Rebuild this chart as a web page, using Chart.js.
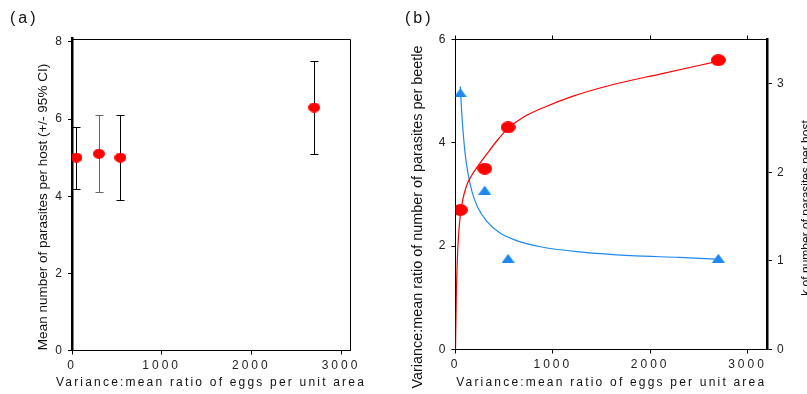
<!DOCTYPE html>
<html>
<head>
<meta charset="utf-8">
<script src="https://cdn.jsdelivr.net/npm/chart.js@4"></script>
<style>
    html, body { margin: 0; padding: 0; background: #fff; }
    #wrap { position: relative; width: 807px; height: 394px; overflow: hidden; }
    #chartA { position: absolute; left: 0; top: 0; }
    #chartB { position: absolute; left: 395px; top: 0; }
</style>
</head>
<body>
<div id="wrap">
    <canvas id="chartA" width="395" height="394"></canvas>
    <canvas id="chartB" width="412" height="394"></canvas>
</div>
<script>
// egg variance:mean ratio for the four sites (x in both panels)
const eggRatio = [50, 300, 540, 2700];

// panel (a)
const meanParasites = [5.0, 5.1, 5.0, 6.3];
const ciLow = [4.2, 4.1, 3.9, 5.1];
const ciHigh = [5.8, 6.1, 6.1, 7.5];

// panel (b)
const parasiteRatio = [2.7, 3.5, 4.3, 5.6];
const kValues = [2.9, 1.8, 1.03, 1.03];

// fitted curves
const ratioFitX = [0, 8, 20, 35, 50, 75, 110, 160, 230, 320, 430, 540, 700, 900, 1200, 1600, 2100, 2700];
const ratioFitY = [0, 1.0, 1.8, 2.3, 2.6, 2.9, 3.15, 3.35, 3.55, 3.78, 4.05, 4.28, 4.5, 4.68, 4.9, 5.12, 5.33, 5.58];
const kFitX = [50, 60, 75, 100, 130, 170, 230, 320, 450, 600, 870, 1300, 1800, 2300, 2700];
const kFitY = [2.97, 2.75, 2.5, 2.2, 1.98, 1.78, 1.6, 1.45, 1.32, 1.24, 1.16, 1.1, 1.06, 1.04, 1.02];

// tick labels
const xTicks = [0, 1000, 2000, 3000];
const yTicksA = [0, 2, 4, 6, 8];
const yTicksB = [0, 2, 4, 6];
const kTicks = [0, 1, 2, 3];

const xTitle = "Variance:mean ratio of eggs per unit area";
const yTitleA = "Mean number of parasites per host (+/- 95% CI)";
const yTitleB = "Variance:mean ratio of number of parasites per beetle";
const kTitle = "k of number of parasites per host";

const RED = "#ff0000";
const BLUE = "#1e88f0";
const FONT = "'Liberation Sans', Arial, sans-serif";

Chart.defaults.font.family = FONT;
Chart.defaults.font.size = 12;
Chart.defaults.color = "#222";

function ellipseMarker(w, h, colour) {
    const c = document.createElement("canvas");
    c.width = w;
    c.height = h;
    const g = c.getContext("2d");
    g.fillStyle = colour;
    g.beginPath();
    g.ellipse(w / 2, h / 2, w / 2, h / 2, 0, 0, Math.PI * 2);
    g.fill();
    return c;
}

function triangleMarker(w, h, colour) {
    const c = document.createElement("canvas");
    c.width = w;
    c.height = h;
    const g = c.getContext("2d");
    g.fillStyle = colour;
    g.beginPath();
    g.moveTo(w / 2, 0);
    g.lineTo(w, h);
    g.lineTo(0, h);
    g.closePath();
    g.fill();
    return c;
}

function toPoints(xs, ys) {
    return xs.map((x, i) => ({ x: x, y: ys[i] }));
}

function fixedTicks(values) {
    return scale => { scale.ticks = values.map(v => ({ value: v })); };
}

const plainLabel = v => String(v);

function xAxis(max, height) {
    return {
        type: "linear",
        min: 0,
        max: max,
        afterBuildTicks: fixedTicks(xTicks),
        afterFit: s => { s.height = height; },
        grid: { drawOnChartArea: false, drawTicks: true, tickLength: 4, color: "#000" },
        border: { color: "#000", width: 1 },
        ticks: { padding: 4, maxRotation: 0, autoSkip: false, callback: plainLabel }
    };
}

function drawRotated(ctx, text, x, y, size, baseline) {
    ctx.save();
    ctx.translate(x, y);
    ctx.rotate(-Math.PI / 2);
    ctx.font = `${size}px ${FONT}`;
    ctx.fillStyle = "#111";
    ctx.textAlign = "center";
    ctx.textBaseline = baseline;
    ctx.letterSpacing = "0px";
    ctx.fillText(text, 0, 0);
    ctx.restore();
}

// spaced-out tick labels like the original
const spacing = {
    id: "spacing",
    beforeDraw(chart) {
        chart.ctx.letterSpacing = "3px";
    }
};

function titles(label, yTitle, yTitleX, yTitleY, yTitleSize) {
    return {
        id: "titles",
        afterDraw(chart) {
            const ctx = chart.ctx;
            const area = chart.chartArea;
            ctx.save();
            ctx.fillStyle = "#111";
            ctx.textAlign = "center";
            ctx.textBaseline = "middle";
            ctx.letterSpacing = "2.2px";
            ctx.font = `12px ${FONT}`;
            ctx.fillText(xTitle, (area.left + area.right) / 2, 383);
            ctx.letterSpacing = "3px";
            ctx.font = `16px ${FONT}`;
            ctx.textAlign = "left";
            ctx.fillText(label, 10, 19);
            ctx.restore();
            drawRotated(ctx, yTitle, yTitleX, yTitleY, yTitleSize, "middle");
            ctx.letterSpacing = "0px";
        }
    };
}

// thin top and right edges of the box in panel (a)
const boxA = {
    id: "boxA",
    afterDraw(chart) {
        const ctx = chart.ctx;
        const a = chart.chartArea;
        const top = Math.round(a.top) + 0.5;
        const right = Math.round(a.right) + 0.5;
        ctx.save();
        ctx.strokeStyle = "#000";
        ctx.lineWidth = 1;
        ctx.beginPath();
        ctx.moveTo(a.left, top);
        ctx.lineTo(right, top);
        ctx.lineTo(right, a.bottom);
        ctx.stroke();
        ctx.restore();
    }
};

const barColours = ["#000", "#666", "#000", "#000"];

const errorBars = {
    id: "errorBars",
    beforeDatasetsDraw(chart) {
        const ctx = chart.ctx;
        const xs = chart.scales.x;
        const ys = chart.scales.y;
        ctx.save();
        ctx.lineWidth = 1;
        eggRatio.forEach((v, i) => {
            const x = Math.round(xs.getPixelForValue(v)) + 0.5;
            const top = Math.round(ys.getPixelForValue(ciHigh[i])) + 0.5;
            const bottom = Math.round(ys.getPixelForValue(ciLow[i])) + 0.5;
            ctx.strokeStyle = barColours[i];
            ctx.beginPath();
            ctx.moveTo(x, top);
            ctx.lineTo(x, bottom);
            ctx.moveTo(x - 4, top);
            ctx.lineTo(x + 4, top);
            ctx.moveTo(x - 4, bottom);
            ctx.lineTo(x + 4, bottom);
            ctx.stroke();
        });
        ctx.restore();
    }
};

const common = {
    responsive: false,
    animation: false,
    events: [],
    plugins: { legend: { display: false }, tooltip: { enabled: false } }
};

new Chart(document.getElementById("chartA"), {
    type: "scatter",
    data: {
        datasets: [{
            data: toPoints(eggRatio, meanParasites),
            pointStyle: ellipseMarker(12, 10, RED),
            pointRadius: 6
        }]
    },
    options: {
        ...common,
        layout: { padding: { top: 38.5, right: 45, left: 0, bottom: 0 } },
        scales: {
            x: xAxis(3100, 43.5),
            y: {
                type: "linear",
                min: 0,
                max: 8.09,
                afterBuildTicks: fixedTicks(yTicksA),
                afterFit: s => { s.width = 72; },
                grid: { drawOnChartArea: false, drawTicks: true, tickLength: 4, color: "#000" },
                border: { color: "#000", width: 2.5 },
                ticks: { padding: 3, callback: plainLabel }
            }
        }
    },
    plugins: [spacing, errorBars, boxA, titles("(a)", yTitleA, 43.5, 207, 13.5)]
});

const kTitlePlugin = {
    id: "kTitle",
    afterDraw(chart) {
        drawRotated(chart.ctx, kTitle, 406, 208, 12, "top");
    }
};

const topAxis = xAxis(3200, 39.5);
topAxis.position = "top";
topAxis.ticks = { display: false };

new Chart(document.getElementById("chartB"), {
    type: "scatter",
    data: {
        datasets: [{
            data: toPoints(eggRatio, parasiteRatio),
            pointStyle: ellipseMarker(15, 12, RED),
            pointRadius: 7,
            yAxisID: "y"
        }, {
            data: toPoints(eggRatio, kValues),
            pointStyle: triangleMarker(13, 9, BLUE),
            pointRadius: 6,
            yAxisID: "k"
        }, {
            data: toPoints(ratioFitX, ratioFitY),
            showLine: true,
            borderColor: RED,
            borderWidth: 1.2,
            pointRadius: 0,
            cubicInterpolationMode: "monotone",
            yAxisID: "y"
        }, {
            data: toPoints(kFitX, kFitY),
            showLine: true,
            borderColor: BLUE,
            borderWidth: 1.2,
            pointRadius: 0,
            cubicInterpolationMode: "monotone",
            yAxisID: "k"
        }]
    },
    options: {
        ...common,
        layout: { padding: 0 },
        scales: {
            x: xAxis(3200, 44.5),
            xTop: topAxis,
            y: {
                type: "linear",
                position: "left",
                min: 0,
                max: 6,
                afterBuildTicks: fixedTicks(yTicksB),
                afterFit: s => { s.width = 60.5; },
                grid: { drawOnChartArea: false, drawTicks: true, tickLength: 4, color: "#000" },
                border: { color: "#000", width: 1 },
                ticks: { padding: 3, callback: plainLabel }
            },
            k: {
                type: "linear",
                position: "right",
                min: 0,
                max: 3.5,
                afterBuildTicks: fixedTicks(kTicks),
                afterFit: s => { s.width = 40; },
                grid: { drawOnChartArea: false, drawTicks: true, tickLength: 5, color: "#000" },
                border: { color: "#000", width: 2.5 },
                ticks: { padding: 5, callback: plainLabel }
            }
        }
    },
    plugins: [spacing, kTitlePlugin, titles("(b)", yTitleB, 23, 217, 14.4)]
});
</script>
</body>
</html>
